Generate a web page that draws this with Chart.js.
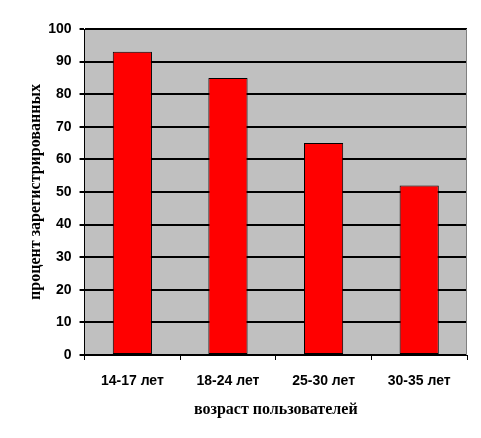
<!DOCTYPE html>
<html>
<head>
<meta charset="utf-8">
<script src="https://cdn.jsdelivr.net/npm/chart.js@4/dist/chart.umd.min.js"></script>
<style>
  html, body { margin: 0; padding: 0; background: #fff; }
  #c { display: block; }
</style>
</head>
<body>
<canvas id="c" width="481" height="438" style="width:481px;height:438px"></canvas>
<script>
// age groups and share of registered users (%)
const categories = ["14-17 лет", "18-24 лет", "25-30 лет", "30-35 лет"];
const values = [93, 85, 65, 52];
const yTicks = [0, 10, 20, 30, 40, 50, 60, 70, 80, 90, 100];

const tickFont = { family: "Liberation Sans", size: 14, weight: "bold" };
const titleFont = { family: "Liberation Serif", size: 16, weight: "bold" };

// grey plot area + right frame
const plotFrame = {
  id: "plotFrame",
  beforeDraw(chart) {
    const { ctx, chartArea: a } = chart;
    ctx.save();
    ctx.fillStyle = "#c0c0c0";
    ctx.fillRect(a.left, a.top, a.right - a.left, a.bottom - a.top);
    ctx.restore();
  },
  afterDraw(chart) {
    const { ctx, chartArea: a } = chart;
    ctx.save();
    ctx.strokeStyle = "#808080";
    ctx.lineWidth = 1;
    ctx.beginPath();
    ctx.moveTo(a.right - 0.5, a.top);
    ctx.lineTo(a.right - 0.5, a.bottom);
    ctx.stroke();
    ctx.restore();
  },
};

new Chart(document.getElementById("c"), {
  type: "bar",
  data: {
    labels: categories,
    datasets: [{
      data: values,
      backgroundColor: "#ff0000",
      borderColor: "#000000",
      borderWidth: 1,
      borderSkipped: false,
      categoryPercentage: 1,
      barPercentage: 0.41,
    }],
  },
  plugins: [plotFrame],
  options: {
    responsive: false,
    animation: false,
    layout: { padding: { left: 22, right: 14, top: 29, bottom: 15 } },
    plugins: { legend: { display: false }, tooltip: { enabled: false } },
    scales: {
      x: {
        offset: true,
        grid: { offset: true, drawOnChartArea: false, color: "#000", tickLength: 5, lineWidth: 1 },
        border: { color: "#000", width: 1 },
        ticks: { color: "#000", font: tickFont, padding: 13, maxRotation: 0 },
        title: { display: true, text: "возраст пользователей", color: "#000", font: titleFont, padding: { top: -3 } },
      },
      y: {
        min: 0, max: 100,
        afterBuildTicks: (s) => { s.ticks = yTicks.map((v) => ({ value: v })); },
        grid: { color: "#000", lineWidth: 2, tickLength: 5 },
        border: { color: "#000", width: 1 },
        ticks: { color: "#000", font: tickFont, padding: 8 },
        title: { display: true, text: "процент зарегистрированных", color: "#000", font: titleFont, padding: { bottom: -5 } },
      },
    },
  },
});
</script>
</body>
</html>
